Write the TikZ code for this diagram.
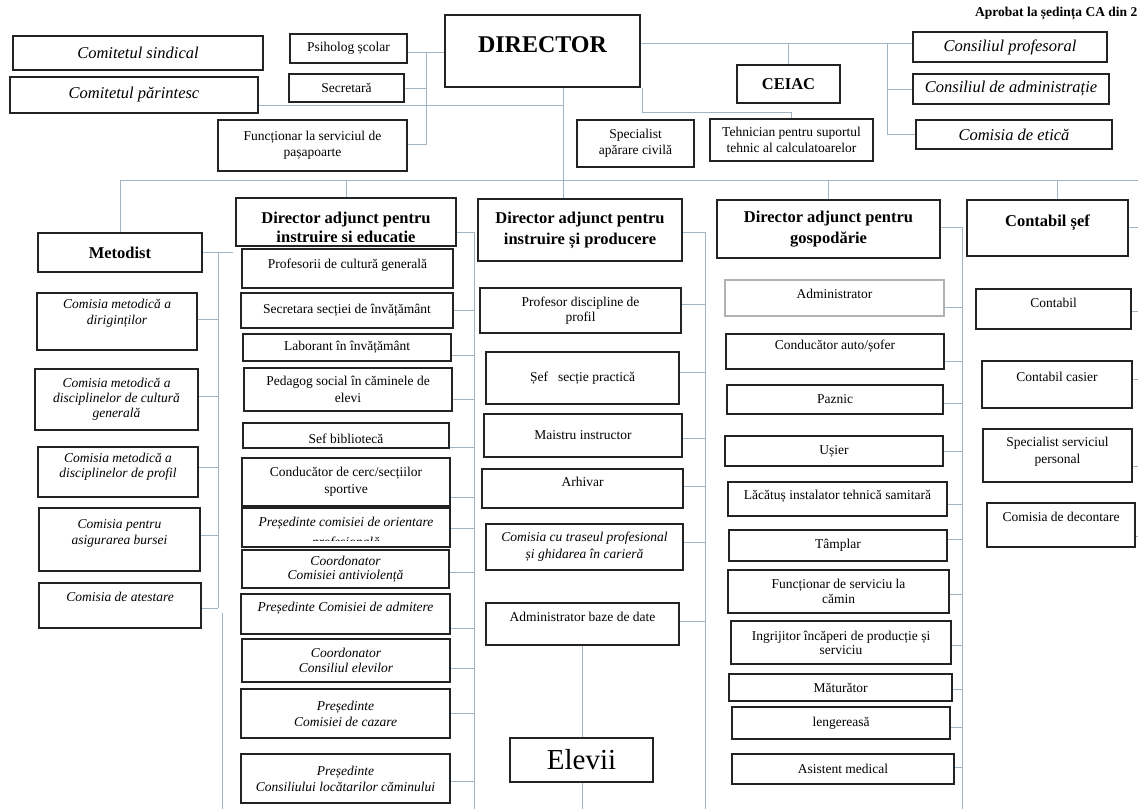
\documentclass[tikz,border=0pt]{standalone}
\usepackage{fontspec}
\setmainfont{Liberation Serif}
\usepackage{graphicx}

\definecolor{linkcol}{RGB}{160,180,196}
\definecolor{boxcol}{RGB}{35,35,35}

\newcommand\txtnorm{\fontsize{13.5}{16}\selectfont}
\newcommand\txtital{\fontsize{13.5}{16}\selectfont\itshape}
\newcommand\txthead{\fontsize{16.5}{21}\selectfont\bfseries}
\newcommand\txtbig{\fontsize{16.5}{19}\selectfont\itshape}

\begin{document}
\begin{tikzpicture}[x=1pt, y=-1pt,
                    box/.style={draw=boxcol, line width=1.2pt, fill=white,
                                align=center, inner sep=1pt, font=\txtnorm},
                    ibox/.style={box, font=\txtital},
                    head/.style={box, font=\txthead},
                    wh/.style 2 args={minimum width=#1, minimum height=#2},
                    lift/.style={text depth=#1},
                    link/.style={draw=linkcol, line width=0.8pt}]

  \path[use as bounding box, fill=white] (0,0) rectangle (1138,809);

  % top row
  \node[box, font=\txtbig, wh={250}{34}] (sind) at (138,53) {Comitetul sindical};
  \node[box, font=\txtbig, wh={248}{36}] (par) at (134,95) {Comitetul părintesc};
  \node[box, wh={117}{29}] (psih) at (348.5,48.5) {Psiholog școlar};
  \node[box, wh={115}{28}] (secr) at (346.5,88) {Secretară};
  \node[box, wh={189}{51}] (func) at (312.5,145.5) {Funcționar la serviciul de\\pașapoarte};
  \node[box, font=\fontsize{24}{28}\selectfont\bfseries, wh={195}{72}, lift=12pt] (dir) at (542.5,51) {DIRECTOR};
  \node[head, wh={103}{38}] (ceiac) at (788.5,84) {CEIAC};
  \node[box, wh={117}{47}] (spec) at (635.5,143.5) {Specialist\\apărare civilă};
  \node[box, wh={163}{42}] (teh) at (791.5,140) {Tehnician pentru suportul\\tehnic al calculatoarelor};
  \node[box, font=\txtbig, wh={194}{30}] (cprof) at (1010,47) {Consiliul profesoral};
  \node[box, font=\txtbig, wh={196}{30}] (cadm) at (1011,89) {Consiliul de administrație};
  \node[box, font=\txtbig, wh={196}{29}] (cetic) at (1014,134.5) {Comisia de etică};
  \node[font=\fontsize{13.5}{16}\selectfont\bfseries, anchor=base west, inner sep=0pt] (aprob)
    at (975,16) {Aprobat la ședința CA din 2};

  % Metodist
  \node[head, wh={164}{39}] (met) at (120,252.5) {Metodist};
  \node[ibox, wh={160}{57}, lift=19pt] (m1) at (117,321.5) {Comisia metodică a\\diriginților};
  \node[ibox, wh={163}{61}, font=\fontsize{13.5}{15}\selectfont\itshape] (m2) at (116.5,399.5)
    {Comisia metodică a\\disciplinelor de cultură\\generală};
  \node[ibox, wh={160}{50}, lift=13pt, font=\fontsize{13.5}{14.5}\selectfont\itshape] (m3) at (118,472)
    {Comisia metodică a\\disciplinelor de profil};
  \node[ibox, wh={161}{63}, lift=15pt] (m4) at (119.5,539.5) {Comisia pentru\\asigurarea bursei};
  \node[ibox, wh={162}{45}, lift=18pt] (m5) at (120,605.5) {Comisia de atestare};

  % instruire si educatie
  \node[head, wh={220}{48}] (ed) at (346,222) {};
  \node[box, wh={211}{39}, lift=10pt] (e1) at (347.5,268.5) {Profesorii de cultură generală};
  \node[box, wh={212}{35}] (e2) at (347,310.5) {Secretara secției de învățământ};
  \node[box, wh={208}{27}] (e3) at (347,347.5) {Laborant în învățământ};
  \node[box, wh={208}{43}, font=\fontsize{13.5}{17}\selectfont] (e4) at (348,389.5)
    {Pedagog social în căminele de\\elevi};
  \node[box, wh={206}{25}] (e5) at (346,435.5) {};
  \node[box, wh={208}{48}, font=\fontsize{13.5}{17}\selectfont] (e6) at (346,482)
    {Conducător de cerc/secțiilor\\sportive};
  \node[ibox, wh={208}{39}] (e7) at (346,527.5) {};
  \node[ibox, wh={207}{38}, font=\fontsize{13.5}{14.5}\selectfont\itshape] (e8) at (345.5,569)
    {Coordonator\\Comisiei antiviolență};
  \node[ibox, wh={209}{40}, lift=14.5pt] (e9) at (345.5,614) {Președinte Comisiei de admitere};
  \node[ibox, wh={208}{43}, font=\fontsize{13.5}{14.5}\selectfont\itshape] (e10) at (346,660.5)
    {Coordonator\\Consiliul elevilor};
  \node[ibox, wh={209}{49}] (e11) at (345.5,713.5) {Președinte\\Comisiei de cazare};
  \node[ibox, wh={209}{49}] (e12) at (345.5,778.5) {Președinte\\Consiliului locătarilor căminului};

  % texts cut by their boxes
  \begin{scope}
    \clip (237,199) rectangle (455,241);
    \node[font=\fontsize{16.5}{18.5}\selectfont\bfseries, align=center] (ed-t) at (346,229.5)
      {Director adjunct pentru\\instruire și educație};
  \end{scope}
  \begin{scope}
    \clip (244,424) rectangle (448,446);
    \node[font=\txtnorm] (e5-t) at (346,438.5) {Sef bibliotecă};
  \end{scope}
  \begin{scope}
    \clip (243,509) rectangle (449,540);
    \node[font=\fontsize{13.5}{20}\selectfont\itshape, align=center] (e7-t) at (346,533)
      {Președinte comisiei de orientare\\profesională};
  \end{scope}

  % instruire si producere
  \node[head, wh={204}{62}] (pr) at (580,230) {Director adjunct pentru\\instruire și producere};
  \node[box, wh={201}{45}, font=\fontsize{13.5}{15}\selectfont] (p1) at (580.5,310.5)
    {Profesor discipline de\\profil};
  \node[box, wh={193}{52}] (p2) at (582.5,378) {Șef\ \ \ secție practică};
  \node[box, wh={198}{43}] (p3) at (583,435.5) {Maistru instructor};
  \node[box, wh={201}{39}, lift=14pt] (p4) at (582.5,488.5) {Arhivar};
  \node[ibox, wh={197}{46}, font=\fontsize{13.5}{17}\selectfont\itshape] (p5) at (584.5,547)
    {Comisia cu traseul profesional\\și ghidarea în carieră};
  \node[box, wh={193}{42}, lift=15pt] (p6) at (582.5,624) {Administrator baze de date};
  \node[box, font=\fontsize{29}{32}\selectfont, wh={143}{44}] (elevii) at (581.5,760) {Elevii};

  % gospodarie
  \node[head, wh={223}{58}] (gs) at (828.5,229) {Director adjunct pentru\\gospodărie};
  \node[box, draw=gray!60, wh={219}{36}, lift=9pt] (g1) at (834.5,298) {Administrator};
  \node[box, wh={218}{35}, lift=14pt] (g2) at (835,351.5) {Conducător auto/șofer};
  \node[box, wh={216}{29}] (g3) at (835,399.5) {Paznic};
  \node[box, wh={218}{30}] (g4) at (834,451) {Ușier};
  \node[box, wh={219}{34}, lift=9pt] (g5) at (837.5,499) {Lăcătuș instalator tehnică samitară};
  \node[box, wh={218}{31}] (g6) at (838,545.5) {Tâmplar};
  \node[box, wh={221}{43}, font=\fontsize{13.5}{15}\selectfont] (g7) at (838.5,591.5)
    {Funcționar de serviciu la\\cămin};
  \node[box, wh={220}{43}, font=\fontsize{13.5}{14}\selectfont] (g8) at (841,642.5)
    {Ingrijitor încăperi de producție și\\serviciu};
  \node[box, wh={223}{27}] (g9) at (840.5,687.5) {Măturător};
  \node[box, wh={218}{32}] (g10) at (841,723) {lengereasă};
  \node[box, wh={222}{30}] (g11) at (843,769) {Asistent medical};

  % contabil
  \node[head, wh={161}{56}, lift=15.5pt] (cs) at (1047.5,228) {Contabil șef};
  \node[box, wh={155}{40}, lift=13pt] (c1) at (1053.5,309) {Contabil};
  \node[box, wh={150}{47}, lift=16pt] (c2) at (1057,384.5) {Contabil casier};
  \node[box, wh={149}{53}, lift=11pt, font=\fontsize{13.5}{17}\selectfont] (c3) at (1057.5,455.5)
    {Specialist serviciul\\personal};
  \node[box, wh={148}{44}, lift=17pt] (c4) at (1061,525) {Comisia de decontare};

  % bus lines
  \coordinate (sbus) at (426,0);
  \coordinate (dbus) at (563,0);
  \coordinate (rbus) at (887,0);
  \coordinate (tbus) at (642,112);
  \coordinate (hbus) at (0,180);
  \coordinate (hbus-end) at (1138,180);
  \coordinate (mbus) at (218,0);
  \coordinate (ebus) at (474,0);
  \coordinate (pbus) at (705,0);
  \coordinate (gbus) at (962,0);
  \coordinate (cbus) at (1138,0);
  \coordinate (low) at (0,809);
  \coordinate (xa) at (222,613);

  \draw[link] (psih.east |- 0,52) -- (dir.west |- 0,52);
  \draw[link] (secr.east |- 0,88) -- (sbus |- 0,88);
  \draw[link] (func.east |- 0,144) -- (sbus |- 0,144) -- (sbus |- 0,52);
  \draw[link] (par.east |- 0,105) -- (dbus |- 0,105);
  \draw[link] (dir.south -| dbus) -- (pr.north -| dbus);
  \draw[link] (dir.east |- 0,43) -- (cprof.west |- 0,43);
  \draw[link] (ceiac.north) -- (ceiac.north |- 0,43);
  \draw[link] (rbus |- 0,43) -- (rbus |- cetic.west) -- (cetic.west);
  \draw[link] (cadm.west) -- (cadm.west -| rbus);
  \draw[link] (dir.south -| tbus) -- (tbus) -- (tbus -| teh.north) -- (teh.north);

  \draw[link] (met.north) -- (met.north |- hbus) -- (hbus-end);
  \draw[link] (ed.north) -- (ed.north |- hbus);
  \draw[link] (gs.north) -- (gs.north |- hbus);
  \draw[link] ([xshift=10pt]cs.north) -- ([xshift=10pt]cs.north |- hbus);

  % Metodist branches
  \draw[link] (met.east) -- (met.east -| 233,0);
  \draw[link] (mbus |- met.east) -- (mbus |- 0,608);
  \foreach \n/\y in {m1/319, m2/396, m3/467, m4/535, m5/608}
    \draw[link] (\n.east |- 0,\y) -- (mbus |- 0,\y);
  \draw[link] (xa) -- (xa |- low);

  % educatie branches
  \draw[link] (ed.east |- 0,232) -- (ebus |- 0,232) -- (ebus |- low);
  \foreach \n/\y in {e2/310, e3/355, e4/399, e5/447, e6/497, e7/528,
                     e8/572, e9/628, e10/668, e11/713, e12/781}
    \draw[link] (\n.east |- 0,\y) -- (ebus |- 0,\y);

  % productie branches
  \draw[link] (pr.east |- 0,232) -- (pbus |- 0,232) -- (pbus |- low);
  \foreach \n/\y in {p1/304, p2/372, p3/438, p4/486, p5/542, p6/621}
    \draw[link] (\n.east |- 0,\y) -- (pbus |- 0,\y);
  \draw[link] (elevii.north -| p6.south) -- (p6.south);
  \draw[link] (elevii.south -| p6.south) -- (p6.south |- low);

  % gospodarie branches
  \draw[link] (gs.east |- 0,227) -- (gbus |- 0,227) -- (gbus |- low);
  \foreach \n/\y in {g1/307, g2/361, g3/403, g4/451, g5/504, g6/539,
                     g7/594, g8/645, g9/689, g10/727, g11/767}
    \draw[link] (\n.east |- 0,\y) -- (gbus |- 0,\y);

  % contabil branches
  \foreach \n/\y in {cs/227, c1/311, c2/379, c3/466, c4/536}
    \draw[link] (\n.east |- 0,\y) -- (cbus |- 0,\y);
\end{tikzpicture}
\end{document}
